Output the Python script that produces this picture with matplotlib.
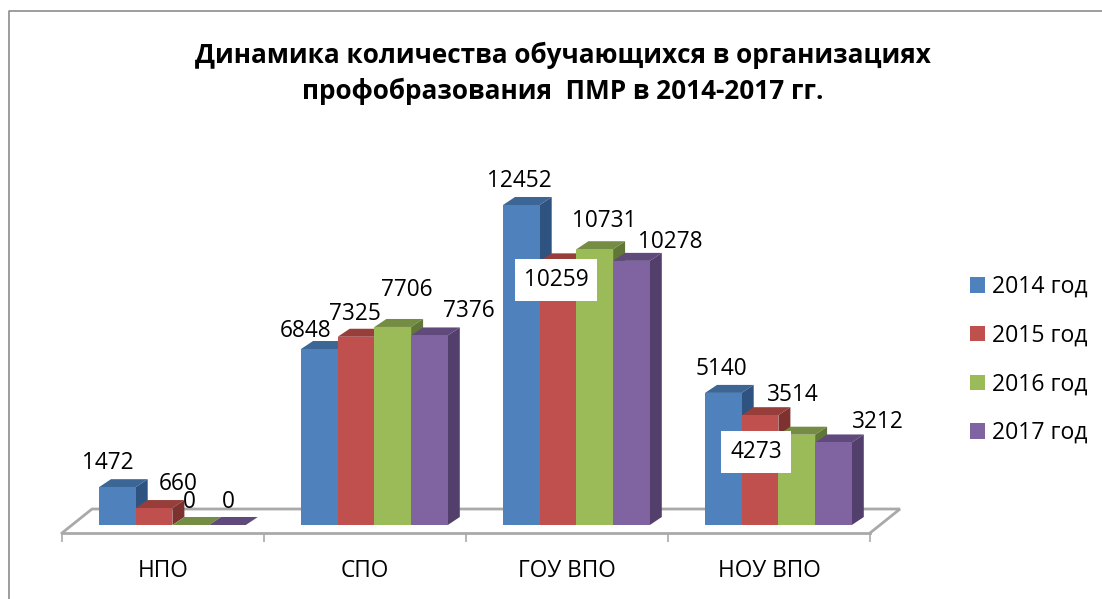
"""Clustered pseudo-3D columns: students in vocational education, 2014-2017."""

import matplotlib
matplotlib.use("Agg")
import matplotlib.pyplot as plt
from matplotlib.lines import Line2D
from matplotlib.patches import Patch

plt.rcParams["font.family"] = ["Open Sans", "DejaVu Sans"]

CATEGORIES = ["НПО", "СПО", "ГОУ ВПО", "НОУ ВПО"]
SERIES = ["2014 год", "2015 год", "2016 год", "2017 год"]
V2014 = [1472, 6848, 12452, 5140]
V2015 = [660, 7325, 10259, 4273]
V2016 = [0, 7706, 10731, 3514]
V2017 = [0, 7376, 10278, 3212]
VALUES = [V2014, V2015, V2016, V2017]
TITLE = "Динамика количества обучающихся в организациях\nпрофобразования  ПМР в 2014-2017 гг."

# office 2010 palette: front, top, side
FRONT = ["#4F81BD", "#C0504D", "#9BBB59", "#8064A2"]
TOP = ["#3C6696", "#973E3B", "#748D43", "#5F4A7B"]
SIDE = ["#2F5380", "#7E3230", "#617738", "#523F6C"]

# hand-moved data labels, pixel offset from top centre of the bar (per series, per category)
LABEL_OFFSETS = [
    [(-10, 24), (-14, 18), (-2, 24), (-2, 24)],
    [(24, 24), (-1, 23), (-2, -19), (-4, -37)],
    [(-1, 23), (14, 37), (10, 28), (-4, 40)],
    [(1, 23), (39, 24), (39, 19), (44, 20)],
]
BOXED = {(1, 2), (1, 3)}

W, H = 1102, 599
PX_PER_CAT = 202.0
PX_PER_UNIT = 320.0 / 12452
AX_L, AX_R, AX_TOP, AX_BOT, BASE = 62, 870, 140, 533, 525
DEPTH_X, DEPTH_Y = 12 / PX_PER_CAT, 8 / PX_PER_UNIT
BAR_W = 36.7 / PX_PER_CAT
BAR_PAD = 37 / PX_PER_CAT
GREY = "#A9A9A9"

fig = plt.figure(figsize=(W / 100, H / 100), dpi=100)
ax = fig.add_axes([AX_L / W, 1 - AX_BOT / H, (AX_R - AX_L) / W, (AX_BOT - AX_TOP) / H])
ax.set_xlim(0, 4)
ax.set_ylim(-(AX_BOT - BASE) / PX_PER_UNIT, (BASE - AX_TOP) / PX_PER_UNIT)
ax.patch.set_alpha(0)

for name in ["top", "left", "right"]:
    ax.spines[name].set_visible(False)
ax.spines["bottom"].set_color(GREY)
ax.spines["bottom"].set_linewidth(2)
ax.set_yticks([])
ax.set_xticks([0.5, 1.5, 2.5, 3.5], CATEGORIES, fontsize=16.3)
ax.set_xticks([0, 1, 2, 3, 4], minor=True)
ax.tick_params(axis="x", which="major", length=0, pad=18.5)
ax.tick_params(axis="x", which="minor", length=6.5, width=1.2, color=GREY)

# floor of the 3d box
y0 = ax.get_ylim()[0]
fx, fy = 30 / PX_PER_CAT, 24 / PX_PER_UNIT
ax.plot([0, fx, 4 + fx, 4], [y0, y0 + fy, y0 + fy, y0], color=GREY, lw=2,
        clip_on=False, zorder=1, solid_joinstyle="miter")

z = 2
for i, vals in enumerate(VALUES):
    for c, v in enumerate(vals):
        x = c + BAR_PAD + i * BAR_W
        ax.fill([x, x + BAR_W, x + BAR_W + DEPTH_X, x + DEPTH_X],
                [v, v, v + DEPTH_Y, v + DEPTH_Y], color=TOP[i], lw=0, zorder=z, clip_on=False)
        if v > 0:
            ax.fill([x + BAR_W, x + BAR_W + DEPTH_X, x + BAR_W + DEPTH_X, x + BAR_W],
                    [0, DEPTH_Y, v + DEPTH_Y, v], color=SIDE[i], lw=0, zorder=z, clip_on=False)
            ax.bar(x, v, BAR_W, align="edge", color=FRONT[i], lw=0, zorder=z)
        z += 1

for i, vals in enumerate(VALUES):
    for c, v in enumerate(vals):
        x = c + BAR_PAD + (i + 0.5) * BAR_W
        box = None
        if (i, c) in BOXED:
            box = dict(fc="white", ec="none", boxstyle="square,pad=0.4")
        ax.annotate(str(v), xy=(x, v), xytext=LABEL_OFFSETS[i][c], textcoords="offset pixels",
                    ha="center", va="center", fontsize=16.3, color="black", zorder=100 + (box is not None),
                    bbox=box, annotation_clip=False)

fig.text(562.5 / W, 1 - 73 / H, TITLE, ha="center", va="center", fontsize=18.8, fontweight="bold",
         linespacing=1.42, color="black")

handles = [Patch(color=FRONT[i], lw=0) for i in range(4)]
fig.legend(handles, SERIES, loc="center left", bbox_to_anchor=(970 / W, 1 - 360 / H),
           frameon=False, fontsize=16.6, borderpad=0, borderaxespad=0, handlelength=0.65,
           handleheight=0.65, handletextpad=0.3, labelspacing=1.07)

# chart area border, only left and top are inside the crop
fig.add_artist(Line2D([9 / W, 9 / W, 1], [0, 1 - 11 / H, 1 - 11 / H], color="#8C8C8C", lw=1.2))

fig.savefig("out.png", dpi=100)
